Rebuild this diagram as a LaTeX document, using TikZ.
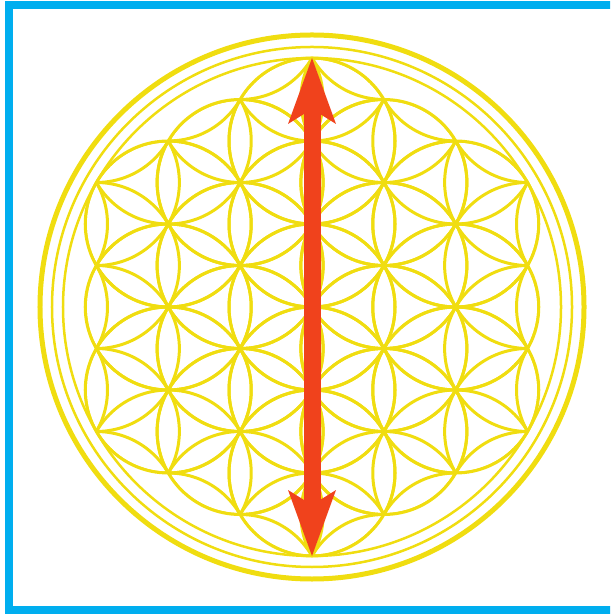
\documentclass[tikz,border=0pt]{standalone}
\usepackage{tikz}
\usetikzlibrary{arrows.meta}
\definecolor{flowergold}{RGB}{240,221,16}
\definecolor{framecyan}{RGB}{0,174,239}
\definecolor{arrowred}{RGB}{240,66,28}

\begin{document}
\begin{tikzpicture}[line width=0.06cm,
  petal/.style={draw=flowergold,line width=0.06cm},
  ring/.style={draw=flowergold,line width=0.05cm},
  bigarrow/.style={draw=arrowred,line width=0.34cm,
    {Stealth[length=1.32cm,width=0.96cm,inset=0.3cm,line width=0pt]}-{Stealth[length=1.32cm,width=0.96cm,inset=0.3cm,line width=0pt]}}]
  \def\rr{1.66}
  \def\seedlist{-2/0,-2/1,-2/2,-1/-1,-1/0,-1/1,-1/2,0/-2,0/-1,0/0,0/1,0/2,1/-2,1/-1,1/0,1/1,2/-2,2/-1,2/0}
  \useasboundingbox (-6.24,-6.14) rectangle (5.96,6.14);
  \coordinate (O) at (0,0);
  \coordinate (tip) at (0,{3*\rr});
  \coordinate (tail) at (0,{-3*\rr});

  \begin{scope}
    \clip (-6.24,-6.14) rectangle (5.96,6.14);
    \draw[framecyan,line width=0.16cm] (6.4,6.04) -- (-6.06,6.04) -- (-6.06,-6.06) -- (6.4,-6.06);
  \end{scope}

  \draw[ring,line width=0.1cm] (O) circle (5.44);
  \draw[ring] (O) circle (5.2);
  \draw[ring] (O) circle ({3*\rr});

  \begin{scope}
    \clip \foreach \a/\b in \seedlist {({\a*0.866*\rr},{(\a/2+\b)*\rr}) circle (\rr)};
    \foreach \a in {-5,...,5}
      \foreach \b in {-6,...,6}
        \draw[petal] ({\a*0.866*\rr},{(\a/2+\b)*\rr}) circle (\rr);
  \end{scope}
  \foreach \a/\b in \seedlist
    \draw[petal] ({\a*0.866*\rr},{(\a/2+\b)*\rr}) circle (\rr);

  \draw[bigarrow] (tail) -- (tip);
\end{tikzpicture}
\end{document}
